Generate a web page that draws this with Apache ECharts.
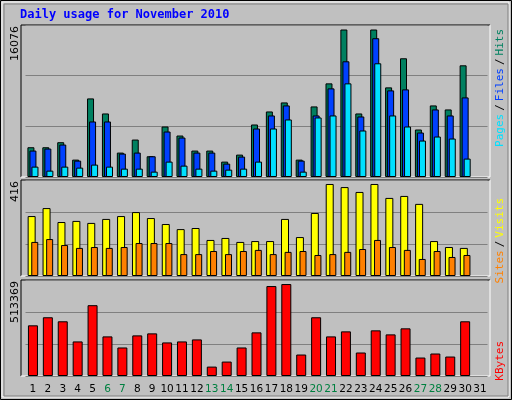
<!DOCTYPE html>
<html><head><meta charset="utf-8">
<script src="https://cdn.jsdelivr.net/npm/echarts@6/dist/echarts.min.js"></script>
<style>html,body{margin:0;padding:0;background:#c0c0c0}#c{width:512px;height:400px}</style>
</head><body><div id="c"></div>
<script>
const days = ['1','2','3','4','5','6','7','8','9','10','11','12','13','14','15','16','17','18','19','20','21','22','23','24','25','26','27','28','29','30','31'];
const weekend = ['6','7','13','14','20','21','27','28'];
const hits = [3244,3244,3791,1895,8566,6926,2661,4082,2260,5504,4520,2880,2880,1677,2442,5723,7144,8128,1895,7691,10206,16076,6926,16076,9769,12940,5176,7800,7363,12174,null];
const files = [2880,3098,3536,1786,6051,6051,2552,2661,2260,4957,4301,2661,2661,1458,2223,5285,6707,7800,1786,6707,9659,12612,6597,15127,9440,9550,4848,7363,6707,8675,null];
const pages = [1130,693,1130,1021,1349,1130,911,911,583,1677,1239,911,693,802,911,1677,5285,6269,583,6488,6707,10206,5067,12393,6707,5504,3973,4410,4192,2005,null];
const visits = [271,307,244,249,240,258,271,289,262,235,212,217,163,172,154,158,158,258,176,285,416,402,380,416,353,362,326,158,131,127,null];
const sites = [154,167,140,127,131,127,131,149,149,149,99,99,113,99,113,118,99,109,113,95,99,109,122,163,131,118,77,113,86,95,null];
const kbytes = [282913,327880,305397,192981,395330,221085,159256,226706,237947,187360,192981,204222,52461,80565,159256,243568,502125,513369,119910,327880,221085,249189,131152,254810,232326,266051,103048,125531,108669,305397,null];
const maxLabels = ['16076','416','513369'];

const top1=25, bot1=177, top2=180, bot2=276, top3=280, bot3=376;
const L=25.5, R=24.5;
const mono = 'DejaVu Sans Mono';
function xa(i, show){return {type:'category',gridIndex:i,data:days,boundaryGap:true,
  axisLine:{show:false},axisTick:{show:false},
  axisLabel:{show:show,interval:0,margin:8,fontFamily:'DejaVu Sans',fontSize:10.5,
    color:(v)=>weekend.includes(v)?'#008040':'#000'}};}
function ya(i,max){return {type:'value',gridIndex:i,min:0,max:max,interval:max/3,
  axisLabel:{show:false},axisLine:{show:false},axisTick:{show:false},
  splitLine:{lineStyle:{color:'#808080',width:1}}};}
const bs={borderColor:'#000',borderWidth:1};
function panel(t,b){return [
  {type:'line',shape:{x1:21,y1:t,x2:490,y2:t},style:{stroke:'#000',lineWidth:1}},
  {type:'line',shape:{x1:21,y1:t,x2:21,y2:b},style:{stroke:'#000',lineWidth:1}},
  {type:'line',shape:{x1:490,y1:t,x2:490,y2:b},style:{stroke:'#fff',lineWidth:1}},
  {type:'line',shape:{x1:21,y1:b,x2:490,y2:b},style:{stroke:'#fff',lineWidth:1}}];}
function vtext(x,y,text){return {type:'text',x:x,y:y,rotation:Math.PI/2,z:10,
  style:{text:text,font:'11px DejaVu Sans',align:'right',verticalAlign:'middle',fill:'#000'}};}
const chart = echarts.init(document.getElementById('c'),null,{renderer:'canvas'});
chart.setOption({
  animation:false,
  backgroundColor:'#c0c0c0',
  grid:[{left:L,right:R,top:top1,height:bot1-top1},
        {left:L,right:R,top:top2,height:bot2-top2},
        {left:L,right:R,top:top3,height:bot3-top3}],
  xAxis:[xa(0,false),xa(1,false),xa(2,true)],
  yAxis:[ya(0,16567),ya(1,434),ya(2,535900)],
  series:[
    {type:'bar',name:'Hits',xAxisIndex:0,yAxisIndex:0,data:hits,barWidth:7,barGap:'-71%',itemStyle:Object.assign({color:'#008060'},bs)},
    {type:'bar',name:'Files',xAxisIndex:0,yAxisIndex:0,data:files,barWidth:7,barGap:'-71%',itemStyle:Object.assign({color:'#0040ff'},bs)},
    {type:'bar',name:'Pages',xAxisIndex:0,yAxisIndex:0,data:pages,barWidth:7,barGap:'-71%',itemStyle:Object.assign({color:'#00e0ff'},bs)},
    {type:'bar',name:'Visits',xAxisIndex:1,yAxisIndex:1,data:visits,barWidth:8,barGap:'-55%',itemStyle:Object.assign({color:'#ffff00'},bs)},
    {type:'bar',name:'Sites',xAxisIndex:1,yAxisIndex:1,data:sites,barWidth:7,barGap:'-55%',itemStyle:Object.assign({color:'#ff8000'},bs)},
    {type:'bar',name:'KBytes',xAxisIndex:2,yAxisIndex:2,data:kbytes,barWidth:10,itemStyle:Object.assign({color:'#ff0000'},bs)}
  ],
  graphic:[
    {type:'rect',shape:{x:0.5,y:0.5,width:511,height:399},style:{fill:null,stroke:'#000',lineWidth:1}},
    {type:'rect',shape:{x:2,y:2,width:507,height:395},style:{fill:null,stroke:'#fff',lineWidth:1}},
    {type:'rect',shape:{x:4,y:4,width:504,height:392},style:{fill:null,stroke:'#808080',lineWidth:1}},
    {type:'text',x:20,y:15,style:{text:'Daily usage for November 2010',font:'bold 12px '+mono,fill:'#0000ff',verticalAlign:'middle'}},
    ...panel(top1,bot1),...panel(top2,bot2),...panel(top3,bot3),
    vtext(15,top1+1,maxLabels[0]),
    vtext(15,top2+1,maxLabels[1]),
    vtext(15,top3+1,maxLabels[2]),
    {type:'text',x:500,y:29,rotation:Math.PI/2,style:{text:'{p|Pages}{s|/}{f|Files}{s|/}{h|Hits}',align:'right',verticalAlign:'middle',font:'11px '+mono,
      rich:{p:{fill:'#00e0ff',font:'11px '+mono},f:{fill:'#0040ff',font:'11px '+mono},h:{fill:'#008060',font:'11px '+mono},s:{fill:'#000',font:'11px '+mono,padding:[0,3]}}}},
    {type:'text',x:500,y:198,rotation:Math.PI/2,style:{text:'{o|Sites}{s|/}{y|Visits}',align:'right',verticalAlign:'middle',font:'11px '+mono,
      rich:{o:{fill:'#ff8000',font:'11px '+mono},y:{fill:'#ffff00',font:'11px '+mono},s:{fill:'#000',font:'11px '+mono,padding:[0,3]}}}},
    {type:'text',x:500,y:341,rotation:Math.PI/2,style:{text:'KBytes',fill:'#ff0000',align:'right',verticalAlign:'middle',font:'11px '+mono}}
  ]
});
</script></body></html>
